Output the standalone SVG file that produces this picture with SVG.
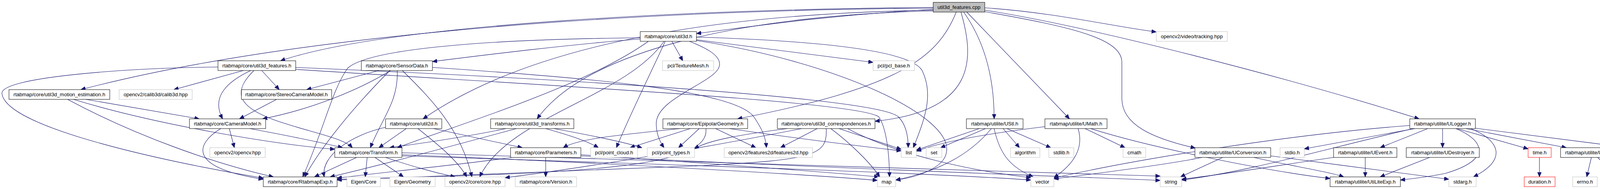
<svg xmlns="http://www.w3.org/2000/svg" width="4376" height="485" viewBox="0 0 4376 485">
<style>
.n rect{fill:#fff;stroke:#000;stroke-width:1}
.g rect{stroke:#bfbfbf}
.r rect{stroke:#ff0000}
.root rect{fill:#bfbfbf}
text{font-family:"Liberation Sans",Arial,Helvetica,sans-serif;font-size:13px;text-anchor:middle;fill:#000}
#edges path{fill:none;stroke:#191970;stroke-width:1.1;marker-end:url(#a)}
</style>
<defs>
<marker id="a" markerUnits="userSpaceOnUse" markerWidth="14" markerHeight="12" refX="12" refY="5" orient="auto"><path d="M0,0 L12,5 L0,10 z" fill="#191970" stroke="#191970" stroke-width="1"/></marker>
</defs>
<rect width="4376" height="485" fill="#fff"/>
<g id="edges">
<path d="M2389,19 C1800,24 1000,60 718,156"/>
<path d="M2389,21 C1500,28 700,100 207,230"/>
<path d="M2389,24 C2100,40 1900,72 1783,86"/>
<path d="M2389,26 C1800,35 1350,120 1083,305"/>
<path d="M2389,28 C1900,40 1500,130 1375,305"/>
<path d="M2448,31 C2400,150 2300,225 1888,305"/>
<path d="M2460,31 C2495,150 2500,285 2240,311"/>
<path d="M2467,31 C2530,120 2545,220 2545,305"/>
<path d="M2475,31 L2738,305"/>
<path d="M2521,20 C2700,32 2850,68 2960,82"/>
<path d="M2521,26 C2800,70 3300,200 3633,305"/>
<path d="M2521,30 C2750,70 2872,100 2872,160 L2872,253 C2872,320 2950,355 3060,380"/>
<path d="M1639,100 C1450,115 1250,140 1107,158"/>
<path d="M1720,106 L1748,156"/>
<path d="M1703,106 C1660,200 1610,300 1578,379"/>
<path d="M1765,106 C1800,120 1845,140 1842,167 C1838,210 1680,250 1680,317 C1680,345 1690,365 1700,379"/>
<path d="M1783,102 L2235,160"/>
<path d="M1783,95 C2100,105 2330,130 2360,180 C2390,240 2370,300 2338,379"/>
<path d="M1783,104 C2150,160 2440,300 2423,390 C2418,430 2350,455 2293,462"/>
<path d="M1639,97 C1300,100 950,120 890,175 C850,230 830,330 775,454"/>
<path d="M1660,106 C1500,220 1200,310 1017,379"/>
<path d="M1700,106 C1600,250 1300,300 1228,454"/>
<path d="M558,172 C300,175 0,200 5,240 C15,330 450,420 674,457"/>
<path d="M623,181 L445,230"/>
<path d="M642,181 C580,210 540,250 570,305"/>
<path d="M670,181 L715,230"/>
<path d="M650,181 C590,240 610,280 730,317 C800,340 880,355 902,379"/>
<path d="M757,173 C1400,200 2250,250 2300,300 C2320,320 2325,350 2325,379"/>
<path d="M757,178 C1400,220 2200,260 2250,300 C2270,330 2277,400 2277,454"/>
<path d="M970,181 L785,230"/>
<path d="M1000,181 C920,230 800,280 672,305"/>
<path d="M1017,181 C1020,260 980,300 948,379"/>
<path d="M998,181 C900,280 820,380 780,454"/>
<path d="M1030,181 C1100,250 1180,330 1208,454"/>
<path d="M1107,173 C1500,200 1880,230 1930,300 C1950,330 1960,350 1962,379"/>
<path d="M220,255 L510,305"/>
<path d="M188,255 C400,320 700,370 857,383"/>
<path d="M173,255 C350,350 550,420 700,454"/>
<path d="M587,330 L600,379"/>
<path d="M565,330 C500,370 480,430 674,460"/>
<path d="M640,330 C720,345 820,365 877,379"/>
<path d="M708,255 L613,305"/>
<path d="M913,404 L805,454"/>
<path d="M940,404 L935,454"/>
<path d="M960,404 L1033,454"/>
<path d="M987,404 C1050,425 1100,440 1165,454"/>
<path d="M1029,397 C1600,420 2100,450 2246,463"/>
<path d="M1029,400 C1800,425 2400,445 2639,462"/>
<path d="M1029,392 C2000,420 2700,440 2970,452"/>
<path d="M1397,404 L1397,454"/>
<path d="M1310,404 C1200,420 1000,440 863,457"/>
<path d="M1487,397 C1900,425 2150,445 2250,454"/>
<path d="M1487,400 C2200,435 2800,455 2970,463"/>
<path d="M1040,330 L970,379"/>
<path d="M1110,330 L1337,379"/>
<path d="M990,326 C900,345 820,400 830,454"/>
<path d="M1070,330 C1120,370 1170,410 1195,454"/>
<path d="M1295,330 C1200,350 1100,365 997,379"/>
<path d="M1322,330 C1100,390 950,430 845,454"/>
<path d="M1397,330 C1450,345 1500,360 1532,379"/>
<path d="M1418,330 C1500,345 1600,365 1643,379"/>
<path d="M1767,330 L1613,379"/>
<path d="M1790,330 L1737,379"/>
<path d="M1832,330 L1935,379"/>
<path d="M1740,330 C1600,345 1480,355 1442,379"/>
<path d="M1807,330 C1820,430 1500,445 863,460"/>
<path d="M1868,330 C2000,350 2200,375 2307,387"/>
<path d="M2092,330 L1998,379"/>
<path d="M2015,330 C1900,345 1810,360 1778,382"/>
<path d="M2052,330 C1800,380 1500,430 1293,456"/>
<path d="M2115,330 C2120,400 2080,410 1800,425 C1400,440 1000,455 863,462"/>
<path d="M2127,330 C2180,370 2230,420 2252,454"/>
<path d="M2148,330 L2307,383"/>
<path d="M2170,330 C2300,400 2500,440 2639,456"/>
<path d="M2507,330 L2346,385"/>
<path d="M2523,330 L2408,379"/>
<path d="M2568,330 L2610,379"/>
<path d="M2578,330 L2690,379"/>
<path d="M2545,330 C2560,400 2590,430 2645,454"/>
<path d="M2538,330 C2480,400 2400,440 2293,462"/>
<path d="M2675,325 C2550,340 2420,360 2346,388"/>
<path d="M2760,330 C2775,380 2750,420 2698,456"/>
<path d="M2778,330 L2880,379"/>
<path d="M2792,330 C2950,380 3250,440 3405,458"/>
<path d="M3622,330 L3339,382"/>
<path d="M3655,330 L3533,379"/>
<path d="M3693,330 L3693,379"/>
<path d="M3730,330 L3912,382"/>
<path d="M3753,330 L4010,379"/>
<path d="M3777,329 L4184,381"/>
<path d="M3765,330 C3840,360 3860,410 3772,454"/>
<path d="M3727,330 C3800,360 3820,410 3700,445 C3650,455 3620,458 3585,462"/>
<path d="M3618,330 C3400,380 3200,440 3025,462"/>
<path d="M3609,322 C3300,345 2900,410 2698,457"/>
<path d="M3130,404 L3022,454"/>
<path d="M3077,404 C3000,420 2850,440 2698,459"/>
<path d="M3210,404 C3300,425 3400,440 3440,454"/>
<path d="M3253,400 C3400,420 3600,445 3709,460"/>
<path d="M3495,404 L3495,454"/>
<path d="M3414,404 C3300,420 3150,445 3025,460"/>
<path d="M3660,404 L3533,454"/>
<path d="M3941,404 L3941,454"/>
<path d="M4074,404 L4062,454"/>
<path d="M4090,404 L4140,454"/>
<path d="M4278,404 L4278,454"/>
</g>
<g id="n_cpp" class="n root"><rect x="2389" y="6" width="132" height="25"/><text x="2455" y="23">util3d_features.cpp</text></g>
<g id="n_util3d" class="n"><rect x="1639" y="81" width="144" height="25"/><text x="1711" y="98">rtabmap/core/util3d.h</text></g>
<g id="n_tracking" class="n g"><rect x="2960" y="81" width="182" height="25"/><text x="3051" y="98">opencv2/video/tracking.hpp</text></g>
<g id="n_feat" class="n"><rect x="558" y="156" width="199" height="25"/><text x="657.5" y="173">rtabmap/core/util3d_features.h</text></g>
<g id="n_sensor" class="n"><rect x="925" y="156" width="182" height="25"/><text x="1016" y="173">rtabmap/core/SensorData.h</text></g>
<g id="n_tex" class="n g"><rect x="1696" y="156" width="131" height="25"/><text x="1761.5" y="173">pcl/TextureMesh.h</text></g>
<g id="n_pclbase" class="n g"><rect x="2235" y="156" width="106" height="25"/><text x="2288" y="173">pcl/pcl_base.h</text></g>
<g id="n_motion" class="n"><rect x="23" y="230" width="258" height="25"/><text x="152" y="247">rtabmap/core/util3d_motion_estimation.h</text></g>
<g id="n_calib" class="n g"><rect x="305" y="230" width="187" height="25"/><text x="398.5" y="247">opencv2/calib3d/calib3d.hpp</text></g>
<g id="n_stereo" class="n"><rect x="618" y="230" width="231" height="25"/><text x="733.5" y="247">rtabmap/core/StereoCameraModel.h</text></g>
<g id="n_cam" class="n"><rect x="485" y="305" width="195" height="25"/><text x="582.5" y="322">rtabmap/core/CameraModel.h</text></g>
<g id="n_util2d" class="n"><rect x="987" y="305" width="144" height="25"/><text x="1059" y="322">rtabmap/core/util2d.h</text></g>
<g id="n_utrans" class="n"><rect x="1256" y="305" width="213" height="25"/><text x="1362.5" y="322">rtabmap/core/util3d_transforms.h</text></g>
<g id="n_epi" class="n"><rect x="1697" y="305" width="217" height="25"/><text x="1805.5" y="322">rtabmap/core/EpipolarGeometry.h</text></g>
<g id="n_corr" class="n"><rect x="1990" y="305" width="250" height="25"/><text x="2115" y="322">rtabmap/core/util3d_correspondences.h</text></g>
<g id="n_ustl" class="n"><rect x="2474" y="305" width="145" height="25"/><text x="2546.5" y="322">rtabmap/utilite/UStl.h</text></g>
<g id="n_umath" class="n"><rect x="2675" y="305" width="159" height="25"/><text x="2754.5" y="322">rtabmap/utilite/UMath.h</text></g>
<g id="n_ulog" class="n"><rect x="3609" y="305" width="168" height="25"/><text x="3693" y="322">rtabmap/utilite/ULogger.h</text></g>
<g id="n_ocv" class="n g"><rect x="537" y="379" width="142" height="25"/><text x="608" y="396">opencv2/opencv.hpp</text></g>
<g id="n_trans" class="n"><rect x="857" y="379" width="172" height="25"/><text x="943" y="396">rtabmap/core/Transform.h</text></g>
<g id="n_params" class="n"><rect x="1307" y="379" width="180" height="25"/><text x="1397" y="396">rtabmap/core/Parameters.h</text></g>
<g id="n_pc" class="n g"><rect x="1512" y="379" width="120" height="25"/><text x="1572" y="396">pcl/point_cloud.h</text></g>
<g id="n_pt" class="n g"><rect x="1657" y="379" width="121" height="25"/><text x="1717.5" y="396">pcl/point_types.h</text></g>
<g id="n_f2d" class="n g"><rect x="1854" y="379" width="226" height="25"/><text x="1967" y="396">opencv2/features2d/features2d.hpp</text></g>
<g id="n_list" class="n g"><rect x="2307" y="379" width="39" height="25"/><text x="2326.5" y="396">list</text></g>
<g id="n_set" class="n g"><rect x="2371" y="379" width="40" height="25"/><text x="2391" y="396">set</text></g>
<g id="n_algo" class="n g"><rect x="2587" y="379" width="75" height="25"/><text x="2624.5" y="396">algorithm</text></g>
<g id="n_stdlib" class="n g"><rect x="2685" y="379" width="64" height="25"/><text x="2717" y="396">stdlib.h</text></g>
<g id="n_cmath" class="n g"><rect x="2875" y="379" width="58" height="25"/><text x="2904" y="396">cmath</text></g>
<g id="n_uconv" class="n"><rect x="3059" y="379" width="194" height="25"/><text x="3156" y="396">rtabmap/utilite/UConversion.h</text></g>
<g id="n_stdio" class="n g"><rect x="3277" y="379" width="62" height="25"/><text x="3308" y="396">stdio.h</text></g>
<g id="n_uevent" class="n"><rect x="3414" y="379" width="162" height="25"/><text x="3495" y="396">rtabmap/utilite/UEvent.h</text></g>
<g id="n_udest" class="n"><rect x="3600" y="379" width="187" height="25"/><text x="3693.5" y="396">rtabmap/utilite/UDestroyer.h</text></g>
<g id="n_time" class="n r"><rect x="3912" y="379" width="59" height="25"/><text x="3941.5" y="396">time.h</text></g>
<g id="n_umutex" class="n"><rect x="3995" y="379" width="165" height="25"/><text x="4077.5" y="396">rtabmap/utilite/UMutex.h</text></g>
<g id="n_uexc" class="n"><rect x="4184" y="379" width="187" height="25"/><text x="4277.5" y="396">rtabmap/utilite/UException.h</text></g>
<g id="n_rexp" class="n"><rect x="674" y="454" width="189" height="25"/><text x="768.5" y="471">rtabmap/core/RtabmapExp.h</text></g>
<g id="n_ecore" class="n g"><rect x="888" y="454" width="86" height="25"/><text x="931" y="471">Eigen/Core</text></g>
<g id="n_egeo" class="n g"><rect x="998" y="454" width="116" height="25"/><text x="1056" y="471">Eigen/Geometry</text></g>
<g id="n_cvcore" class="n g"><rect x="1139" y="454" width="154" height="25"/><text x="1216" y="471">opencv2/core/core.hpp</text></g>
<g id="n_ver" class="n g"><rect x="1319" y="454" width="157" height="25"/><text x="1397.5" y="471">rtabmap/core/Version.h</text></g>
<g id="n_map" class="n g"><rect x="2246" y="454" width="47" height="25"/><text x="2269.5" y="471">map</text></g>
<g id="n_vec" class="n g"><rect x="2639" y="454" width="59" height="25"/><text x="2668.5" y="471">vector</text></g>
<g id="n_str" class="n g"><rect x="2970" y="454" width="55" height="25"/><text x="2997.5" y="471">string</text></g>
<g id="n_uexp" class="n"><rect x="3405" y="454" width="180" height="25"/><text x="3495" y="471">rtabmap/utilite/UtiLiteExp.h</text></g>
<g id="n_stdarg" class="n g"><rect x="3709" y="454" width="70" height="25"/><text x="3744" y="471">stdarg.h</text></g>
<g id="n_dur" class="n r"><rect x="3902" y="454" width="79" height="25"/><text x="3941.5" y="471">duration.h</text></g>
<g id="n_errno" class="n g"><rect x="4026" y="454" width="63" height="25"/><text x="4057.5" y="471">errno.h</text></g>
<g id="n_pthr" class="n g"><rect x="4113" y="454" width="76" height="25"/><text x="4151" y="471">pthread.h</text></g>
<g id="n_stdexc" class="n g"><rect x="4238" y="454" width="79" height="25"/><text x="4277.5" y="471">stdexcept</text></g>
</svg>
